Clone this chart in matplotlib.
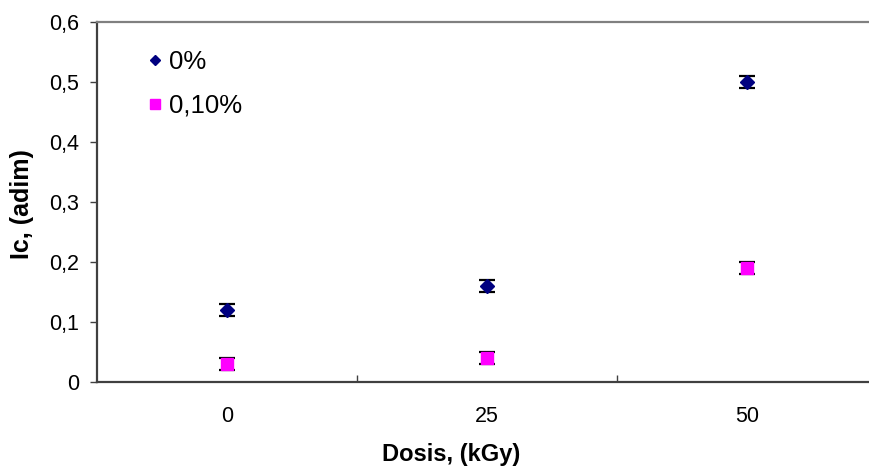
import matplotlib.pyplot as plt
from matplotlib.ticker import FixedLocator, FuncFormatter

plt.rcParams['font.family'] = ['Liberation Sans', 'DejaVu Sans']

# dosis (kGy) e indice Ic para cada concentracion
dosis = ['0', '25', '50']
ic_0 = [0.12, 0.16, 0.50]
err_0 = [0.01, 0.01, 0.01]
ic_010 = [0.03, 0.04, 0.19]
err_010 = [0.01, 0.01, 0.01]

fig = plt.figure(figsize=(8.69, 4.70), dpi=100)
ax = fig.add_axes([97 / 869, 88 / 470, 780 / 869, 360 / 470])

pos = list(range(len(dosis)))

# barras de error debajo de los marcadores
ax.errorbar(pos, ic_0, yerr=err_0, fmt='none', ecolor='black',
            elinewidth=1.3, capsize=5.5, capthick=1.6, zorder=2)
ax.errorbar(pos, ic_010, yerr=err_010, fmt='none', ecolor='black',
            elinewidth=1.3, capsize=5.5, capthick=1.6, zorder=2)

ax.plot(pos, ic_0, linestyle='none', marker='D', markersize=6.8,
        color='#000080', markeredgecolor='#000080', zorder=3, label='0%')
ax.plot(pos, ic_010, linestyle='none', marker='s', markersize=8.5,
        color='#FF00FF', markeredgecolor='#FF00FF', zorder=3, label='0,10%')

ax.set_xlim(-0.5, 2.5)
ax.set_ylim(0, 0.6)

# eje y con coma decimal
ax.yaxis.set_major_locator(FixedLocator([0, 0.1, 0.2, 0.3, 0.4, 0.5, 0.6]))
ax.yaxis.set_major_formatter(FuncFormatter(
    lambda v, p: '0' if abs(v) < 1e-9 else ('%.1f' % v).replace('.', ',')))
ax.tick_params(axis='y', direction='out', length=5, width=1, color='#404040',
               labelsize=15.5, pad=8)

# eje x de categorias: marcas entre categorias
ax.set_xticks(pos)
ax.set_xticklabels(dosis)
ax.set_xticks([0.5, 1.5], minor=True)
ax.tick_params(axis='x', which='major', length=0, labelsize=15.5, pad=17)
ax.tick_params(axis='x', which='minor', direction='in', length=5, width=1,
               color='#404040')

for s in ['left', 'bottom']:
    ax.spines[s].set_color('#404040')
    ax.spines[s].set_linewidth(1.6)
ax.spines['top'].set_color('#808080')
ax.spines['top'].set_linewidth(1.6)
ax.spines['right'].set_visible(False)

fig.text(22 / 869, 1 - 204 / 470, 'Ic, (adim)', fontsize=18,
         fontweight='bold', rotation=90, ha='center', va='center')
fig.text(451 / 869, 1 - 455 / 470, 'Dosis, (kGy)', fontsize=17,
         fontweight='bold', ha='center', va='center')

leg = ax.legend(loc='upper left', bbox_to_anchor=(0.053, 0.95), frameon=False,
                fontsize=18.5, labelspacing=0.75, handlelength=0.5,
                handletextpad=0.3, markerscale=0.8, borderaxespad=0)

fig.savefig('out.png', dpi=100)
